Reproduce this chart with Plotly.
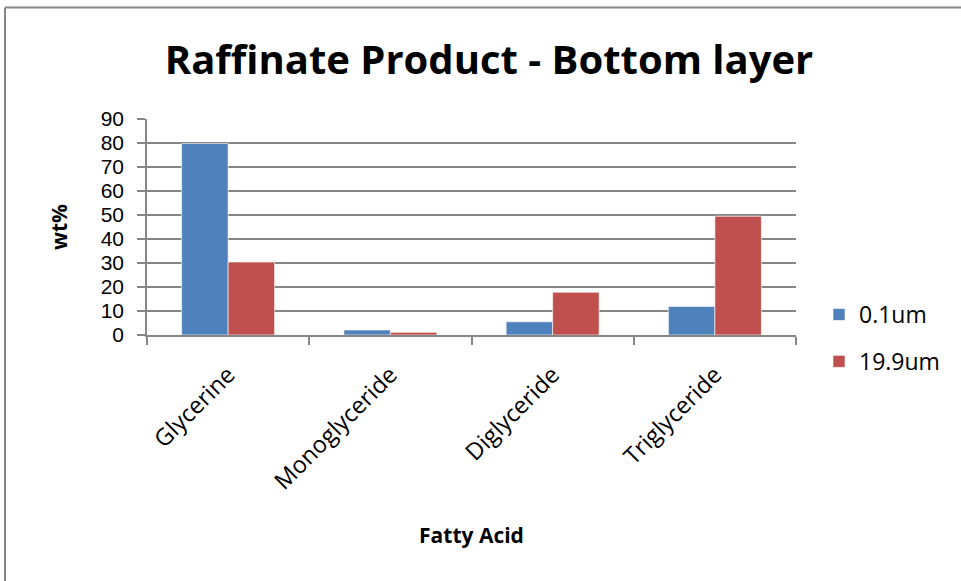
import plotly.graph_objects as go

categories = ["Glycerine", "Monoglyceride", "Diglyceride", "Triglyceride"]
series_names = ["0.1um", "19.9um"]
values_01 = [79.8, 2.1, 5.5, 11.9]
values_199 = [30.4, 1.1, 17.8, 49.5]
y_ticks = [0, 10, 20, 30, 40, 50, 60, 70, 80, 90]

colors = ["#4F81BD", "#C0504D"]
FONT = "Open Sans"

fig = go.Figure()
for i, (name, vals) in enumerate(zip(series_names, [values_01, values_199])):
    fig.add_trace(go.Bar(
        x=categories, y=vals, name=name, legendgroup=name,
        marker=dict(color=colors[i], line=dict(color="rgba(255,255,255,0.6)", width=1)),
    ))

W, H = 961, 581
L, R, T, B = 147, 165, 119, 246
pw, ph = W - L - R, H - T - B

def px_x(x):
    return (x - L) / pw

def px_y(y):
    return (H - B - y) / ph

fig.update_layout(
    width=W, height=H,
    margin=dict(l=L, r=R, t=T, b=B, autoexpand=False),
    paper_bgcolor="white", plot_bgcolor="white",
    font=dict(family=FONT, color="black"),
    barmode="group", bargap=0.427, bargroupgap=0,
    title=dict(text="<b>Raffinate Product - Bottom layer</b>", x=px_x(489), xref="paper",
               xanchor="center", y=1 - 60 / H, yanchor="middle", yref="container",
               font=dict(family=FONT, size=40, color="black")),
    showlegend=True,
    legend=dict(x=px_x(819), y=px_y(293), xanchor="left", yanchor="top",
                font=dict(family=FONT, size=23, color="black"),
                traceorder="grouped", tracegroupgap=14, bgcolor="rgba(0,0,0,0)"),
    xaxis=dict(
        type="category", tickangle=-45, tickson="boundaries", ticks="outside",
        ticklen=8, tickcolor="#868686", tickwidth=1.5,
        showline=True, linecolor="#868686", linewidth=1.5,
        tickfont=dict(family=FONT, size=23.5, color="black"),
        ticklabelstandoff=15,
        title=dict(text="<b>Fatty Acid</b>", font=dict(family=FONT, size=21, color="black"), standoff=33),
    ),
    yaxis=dict(
        range=[0, 90], tickvals=y_ticks, ticktext=[str(v) for v in y_ticks],
        ticks="outside", ticklen=8, tickcolor="#868686", tickwidth=1.5,
        showline=True, linecolor="#868686", linewidth=1.5,
        showgrid=True, gridcolor="#868686", gridwidth=1.5,
        zeroline=False,
        tickfont=dict(family="Liberation Sans", size=21, color="black"),
        ticklabelstandoff=9,
        title=dict(text="<b>wt%</b>", font=dict(family=FONT, size=21, color="black"), standoff=27),
    ),
)

# outer chart border (top and left edges visible)
fig.add_shape(type="line", xref="paper", yref="paper",
              x0=px_x(5), x1=px_x(970), y0=px_y(7.5), y1=px_y(7.5),
              line=dict(color="#868686", width=2))
fig.add_shape(type="line", xref="paper", yref="paper",
              x0=px_x(5), x1=px_x(5), y0=px_y(7.5), y1=px_y(600),
              line=dict(color="#868686", width=2))

fig.write_html("out.html", config={"displayModeBar": False},
               post_script="document.body.style.margin='0';")
